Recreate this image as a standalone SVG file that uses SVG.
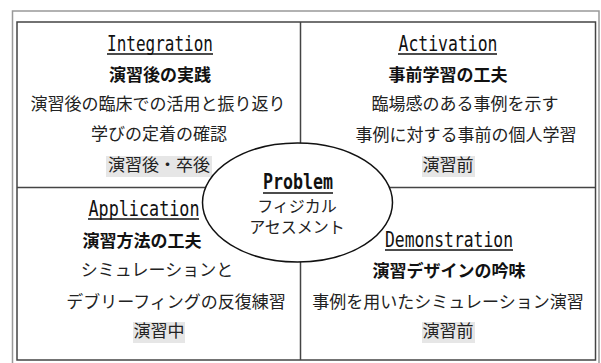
<svg xmlns="http://www.w3.org/2000/svg" width="601" height="363" viewBox="0 0 601 363">
<style>
.h{font-family:"DejaVu Sans Mono","Liberation Mono",monospace;font-size:20.5px;fill:#111;text-anchor:middle}
.b{font-family:"Noto Sans CJK JP",sans-serif;font-size:17px;font-weight:700;fill:#111;text-anchor:middle}
.t{font-family:"Noto Sans CJK JP",sans-serif;font-size:17px;fill:#222;text-anchor:middle}
.p{font-family:"Noto Sans CJK JP",sans-serif;font-size:16px;fill:#222;text-anchor:middle}
.u{stroke:#111;stroke-width:1.5}
.tag{fill:#e6e6e6}
.ln{stroke:#444;stroke-width:1.5;fill:none}
</style>
<rect x="0" y="0" width="601" height="363" fill="#fff"/>
<rect x="12.5" y="11" width="586.5" height="370" fill="none" stroke="#999" stroke-width="1.5"/>
<g id="connectors">
<rect class="ln" x="17" y="22" width="578.5" height="338"/>
<line class="ln" x1="300.5" y1="22" x2="300.5" y2="360"/>
<line class="ln" x1="17" y1="187.5" x2="595.5" y2="187.5"/>
</g>
<g id="integration">
<text class="h" x="160" y="51" textLength="106" lengthAdjust="spacingAndGlyphs">Integration</text>
<line class="u" x1="107" y1="54" x2="213" y2="54"/>
<text class="b" x="160" y="81">演習後の実践</text>
<text class="t" x="158" y="110">演習後の臨床での活用と振り返り</text>
<text class="t" x="159" y="140">学びの定着の確認</text>
<rect class="tag" x="106" y="156" width="106" height="21"/>
<text class="t" x="159" y="171">演習後・卒後</text>
</g>
<g id="activation">
<text class="h" x="448" y="51" textLength="99" lengthAdjust="spacingAndGlyphs">Activation</text>
<line class="u" x1="398" y1="54" x2="497" y2="54"/>
<text class="b" x="448" y="81">事前学習の工夫</text>
<text class="t" x="465" y="110">臨場感のある事例を示す</text>
<text class="t" x="466" y="141">事例に対する事前の個人学習</text>
<rect class="tag" x="422" y="156" width="53" height="21"/>
<text class="t" x="448" y="171">演習前</text>
</g>
<g id="application">
<text class="h" x="144" y="216" textLength="111" lengthAdjust="spacingAndGlyphs">Application</text>
<line class="u" x1="88" y1="219" x2="199" y2="219"/>
<text class="b" x="142" y="247">演習方法の工夫</text>
<text class="t" x="157" y="276">シミュレーションと</text>
<text class="t" x="176" y="308">デブリーフィングの反復練習</text>
<rect class="tag" x="133" y="322" width="52" height="21"/>
<text class="t" x="159" y="337">演習中</text>
</g>
<g id="demonstration">
<text class="h" x="449" y="247" textLength="128" lengthAdjust="spacingAndGlyphs">Demonstration</text>
<line class="u" x1="385" y1="250" x2="513" y2="250"/>
<text class="b" x="449" y="277">演習デザインの吟味</text>
<text class="t" x="448" y="308">事例を用いたシミュレーション演習</text>
<rect class="tag" x="422" y="322" width="53" height="21"/>
<text class="t" x="448" y="337">演習前</text>
</g>
<g id="problem">
<ellipse cx="297.5" cy="202.5" rx="95" ry="59.5" fill="#fff" stroke="#111" stroke-width="1.5"/>
<text class="h" x="298" y="189" font-weight="700" textLength="70" lengthAdjust="spacingAndGlyphs">Problem</text>
<line class="u" x1="263" y1="193" x2="333" y2="193" stroke-width="2"/>
<text class="p" x="297" y="212">フィジカル</text>
<text class="p" x="297" y="233">アセスメント</text>
</g>
</svg>
